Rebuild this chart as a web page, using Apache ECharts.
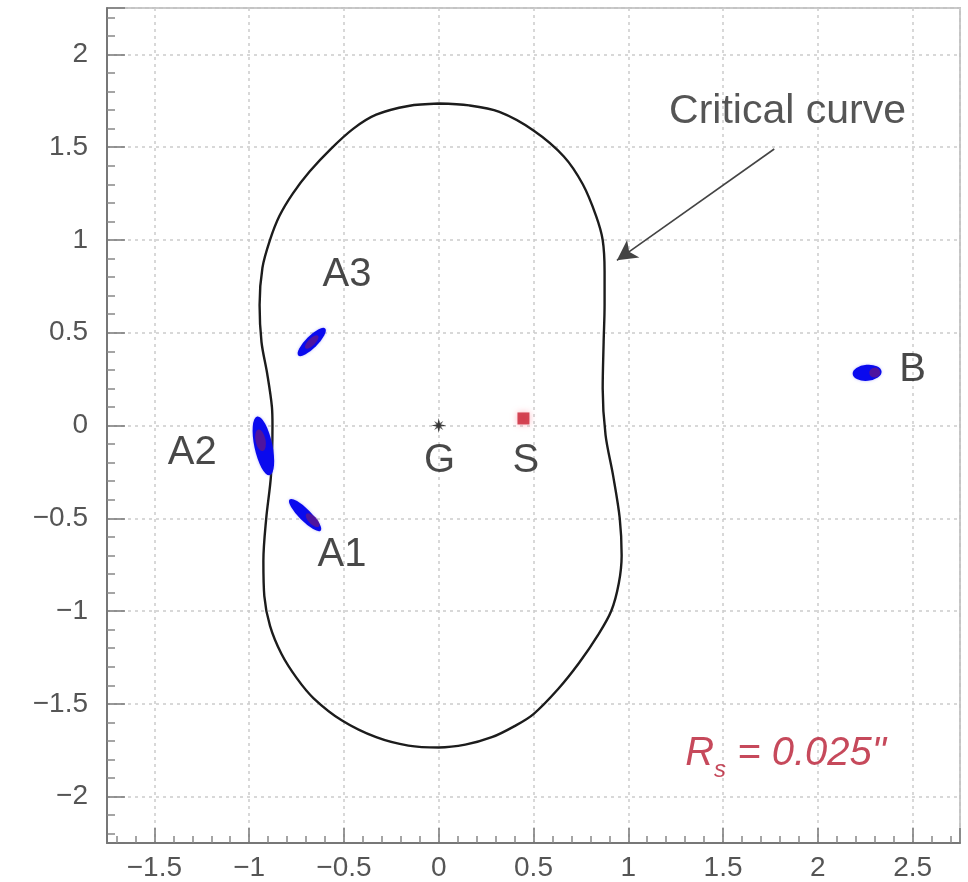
<!DOCTYPE html>
<html>
<head>
<meta charset="utf-8">
<script src="https://cdn.jsdelivr.net/npm/echarts@6/dist/echarts.min.js"></script>
<style>
html,body{margin:0;padding:0;background:#fff;}
#chart{width:968px;height:882px;}
</style>
</head>
<body>
<div id="chart"></div>
<script>
// ---- data ----
const xRange = [-1.75, 2.75];
const yRange = [-2.25, 2.25];

// critical curve (closed), [x, y]
const criticalCurve = [
  [0,1.735],[0.16,1.725],[0.32,1.69],[0.5,1.59],[0.66,1.45],[0.76,1.3],[0.83,1.13],[0.865,1.0],
  [0.875,0.83],[0.875,0.65],[0.87,0.45],[0.865,0.2],[0.88,-0.05],[0.92,-0.27],[0.955,-0.5],
  [0.965,-0.7],[0.95,-0.85],[0.91,-1.0],[0.84,-1.13],[0.74,-1.28],[0.63,-1.42],[0.5,-1.555],
  [0.4,-1.62],[0.28,-1.68],[0.14,-1.72],[0,-1.735],[-0.16,-1.725],[-0.33,-1.68],[-0.51,-1.59],
  [-0.66,-1.47],[-0.75,-1.36],[-0.83,-1.23],[-0.89,-1.08],[-0.92,-0.92],[-0.925,-0.73],
  [-0.91,-0.5],[-0.885,-0.27],[-0.877,0],[-0.88,0.1],[-0.905,0.28],[-0.935,0.45],[-0.945,0.65],
  [-0.93,0.85],[-0.89,1.0],[-0.84,1.13],[-0.77,1.25],[-0.68,1.37],[-0.57,1.49],[-0.45,1.6],
  [-0.33,1.675],[-0.16,1.722],[0,1.735]
];

// lensed images (centres)
const imageNames   = ['A3', 'A2', 'A1', 'B'];
const imageCenters = [[-0.67, 0.45], [-0.925, -0.11], [-0.705, -0.483], [2.26, 0.284]];
const imageCores   = [[-0.67, 0.45], [-0.94, -0.08], [-0.665, -0.51], [2.3, 0.285]];

const sourcePos = [0.447, 0.038];
const galaxyPos = [0, 0];

// text labels
const labelNames = ['A3', 'A2', 'A1', 'G', 'S', 'B'];
const labelPos   = [[-0.484, 0.81], [-1.30, -0.15], [-0.51, -0.70], [0.005, -0.19], [0.46, -0.19], [2.5, 0.30]];

const titleText = 'Critical curve';
const titlePos  = [1.84, 1.69];
const arrowFrom = [1.77, 1.49];
const arrowTo   = [0.94, 0.89];

const radiusPos = [1.83, -1.77];

// ---- styles (not data) ----
const imageShape = {   // [length, width, rotation]
  A3: [38, 12, 45],
  A2: [60, 18, -78],
  A1: [44, 12, -45],
  B:  [29, 16, 5]
};
const coreShape = {
  A3: [18, 7, 45],
  A2: [22, 10, -78],
  A1: [18, 8, -45],
  B:  [11, 10, 5]
};

const fmt = v => {
  const s = String(+v.toFixed(2));
  return s.replace('-', '\u2212');
};

const chart = echarts.init(document.getElementById('chart'), null, {renderer: 'canvas'});

const asterisk = 'path://M0,-10 L1.8,-1.8 L10,0 L1.8,1.8 L0,10 L-1.8,1.8 L-10,0 L-1.8,-1.8Z';

const option = {
  animation: false,
  backgroundColor: '#ffffff',
  textStyle: {fontFamily: 'Liberation Sans, Arial, sans-serif'},
  grid: {
    left: 107, right: 8, top: 8, bottom: 39,
    show: true, borderColor: '#c4c4c4', borderWidth: 2,
    containLabel: false, outerBoundsMode: 'none'
  },
  xAxis: {
    type: 'value', min: xRange[0], max: xRange[1], splitNumber: 9,
    axisLine: {show: true, onZero: false, lineStyle: {color: '#777', width: 2}},
    axisTick: {show: true, inside: true, length: 15, lineStyle: {color: '#777', width: 1.5}},
    minorTick: {show: true, splitNumber: 5, length: 7, lineStyle: {color: '#888', width: 1.5}},
    splitLine: {show: true, lineStyle: {color: '#cccccc', width: 1.5, type: [3, 4]}},
    axisLabel: {
      show: true, margin: 11, fontSize: 28, color: '#555', showMinLabel: false, showMaxLabel: false,
      fontFamily: 'Liberation Sans, Arial, sans-serif', formatter: fmt
    }
  },
  yAxis: {
    type: 'value', min: yRange[0], max: yRange[1], splitNumber: 9,
    axisLine: {show: true, onZero: false, lineStyle: {color: '#777', width: 2}},
    axisTick: {show: true, inside: true, length: 18, lineStyle: {color: '#777', width: 1.5}},
    minorTick: {show: true, splitNumber: 5, length: 8, lineStyle: {color: '#888', width: 1.5}},
    splitLine: {show: true, lineStyle: {color: '#cccccc', width: 1.5, type: [3, 4]}},
    axisLabel: {
      show: true, margin: 19, fontSize: 28, color: '#555', showMinLabel: false, showMaxLabel: false,
      fontFamily: 'Liberation Sans, Arial, sans-serif', formatter: fmt
    }
  },
  series: [
    {
      type: 'line', name: 'critical', data: criticalCurve, smooth: 0.33,
      showSymbol: false, symbol: 'none',
      lineStyle: {color: '#1c1c1c', width: 2.4}, z: 3,
      markLine: {
        silent: true, symbol: ['none', 'arrow'], symbolSize: [16, 20],
        lineStyle: {color: '#444', width: 1.6, type: 'solid'},
        label: {show: false},
        data: [[{coord: arrowFrom}, {coord: arrowTo}]]
      }
    },
    {
      type: 'scatter', name: 'images', z: 4,
      data: imageNames.map((n, i) => ({
        value: imageCenters[i], name: n,
        symbolSize: [imageShape[n][0], imageShape[n][1]],
        symbolRotate: imageShape[n][2]
      })),
      symbol: 'circle',
      itemStyle: {color: '#0a0aee', opacity: 1, shadowBlur: 3, shadowColor: 'rgba(120,120,255,0.5)'}
    },
    {
      type: 'scatter', name: 'cores', z: 5,
      data: imageNames.map((n, i) => ({
        value: imageCores[i], name: n,
        symbolSize: [coreShape[n][0], coreShape[n][1]],
        symbolRotate: coreShape[n][2]
      })),
      symbol: 'circle',
      itemStyle: {color: '#5a1690', opacity: 0.85}
    },
    {
      type: 'scatter', name: 'source', z: 5,
      data: [sourcePos], symbol: 'rect', symbolSize: 12,
      itemStyle: {color: '#c81e30', shadowBlur: 6, shadowColor: 'rgba(255,120,140,0.7)'}
    },
    {
      type: 'scatter', name: 'galaxy', z: 5,
      data: [galaxyPos], symbol: asterisk, symbolSize: 15,
      itemStyle: {color: '#111'}
    },
    {
      type: 'scatter', name: 'galaxy2', z: 5,
      data: [galaxyPos], symbol: asterisk, symbolSize: 13, symbolRotate: 45,
      itemStyle: {color: '#333'}
    },
    {
      type: 'scatter', name: 'labels', z: 6, symbolSize: 0, silent: true,
      data: labelNames.map((n, i) => ({value: labelPos[i], name: n})),
      label: {
        show: true, position: 'inside', formatter: p => p.name,
        fontSize: 40, color: '#1a1a1a', fontFamily: 'Liberation Sans, Arial, sans-serif'
      }
    },
    {
      type: 'scatter', name: 'title', z: 6, symbolSize: 0, silent: true,
      data: [{value: titlePos, name: titleText}],
      label: {
        show: true, position: 'inside', formatter: p => p.name,
        fontSize: 41, color: '#2a2a2a', fontFamily: 'Liberation Sans, Arial, sans-serif'
      }
    },
    {
      type: 'scatter', name: 'radius', z: 6, symbolSize: 0, silent: true,
      data: [{value: radiusPos, name: 'Rs'}],
      label: {
        show: true, position: 'inside',
        formatter: '{r|R}{s|s}{t| = 0.025"}',
        rich: {
          r: {fontSize: 40, fontStyle: 'italic', color: '#b81c32', lineHeight: 56, verticalAlign: 'middle', fontFamily: 'Liberation Sans, Arial, sans-serif'},
          s: {fontSize: 24, fontStyle: 'italic', color: '#b81c32', lineHeight: 56, verticalAlign: 'bottom', fontFamily: 'Liberation Sans, Arial, sans-serif'},
          t: {fontSize: 40, fontStyle: 'italic', color: '#b81c32', lineHeight: 56, verticalAlign: 'middle', fontFamily: 'Liberation Sans, Arial, sans-serif'}
        }
      }
    }
  ]
};

chart.setOption(option);
</script>
</body>
</html>
